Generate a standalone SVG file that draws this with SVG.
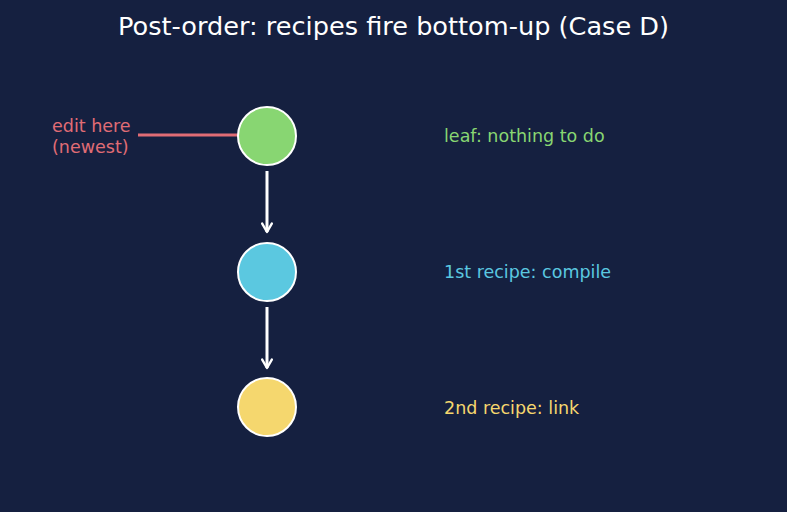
<svg xmlns="http://www.w3.org/2000/svg" width="787" height="512" viewBox="0 0 787 512">
<defs>
<style>
text{font-family:"DejaVu Sans",sans-serif}
.title{font-size:25.6px;fill:#ffffff;text-anchor:middle}
.lbl{font-size:17.5px}
.node{stroke:#ffffff;stroke-width:2}
.edge{stroke:#ffffff;stroke-width:3;fill:none}
</style>
<marker id="ah" viewBox="0 0 10 10" refX="8" refY="5" markerWidth="4" markerHeight="4" orient="auto" markerUnits="strokeWidth">
<path d="M1,1 L8,5 L1,9" fill="none" stroke="#ffffff" stroke-width="2" stroke-linecap="round" stroke-linejoin="round"/>
</marker>
</defs>
<rect width="787" height="512" fill="#152040"/>
<text class="title" x="393.5" y="35">Post-order: recipes fire bottom-up (Case D)</text>
<g id="connectors">
<line class="edge" x1="267" y1="171" x2="267" y2="232" marker-end="url(#ah)"/>
<line class="edge" x1="267" y1="307" x2="267" y2="368" marker-end="url(#ah)"/>
<line x1="138" y1="135" x2="240" y2="135" stroke="#e06c75" stroke-width="3"/>
</g>
<g id="node-leaf">
<circle class="node" cx="267" cy="136" r="29" fill="#88d672"/>
<text class="lbl" x="444" y="142" fill="#88d672">leaf: nothing to do</text>
</g>
<g id="node-compile">
<circle class="node" cx="267" cy="272" r="29" fill="#5bc8e0"/>
<text class="lbl" x="444" y="278" fill="#5bc8e0">1st recipe: compile</text>
</g>
<g id="node-link">
<circle class="node" cx="267" cy="407" r="29" fill="#f5d76e"/>
<text class="lbl" x="444" y="414" fill="#f5d76e">2nd recipe: link</text>
</g>
<g id="edit-label">
<text class="lbl" x="52" y="132" fill="#e06c75">edit here</text>
<text class="lbl" x="52" y="153" fill="#e06c75">(newest)</text>
</g>
</svg>
